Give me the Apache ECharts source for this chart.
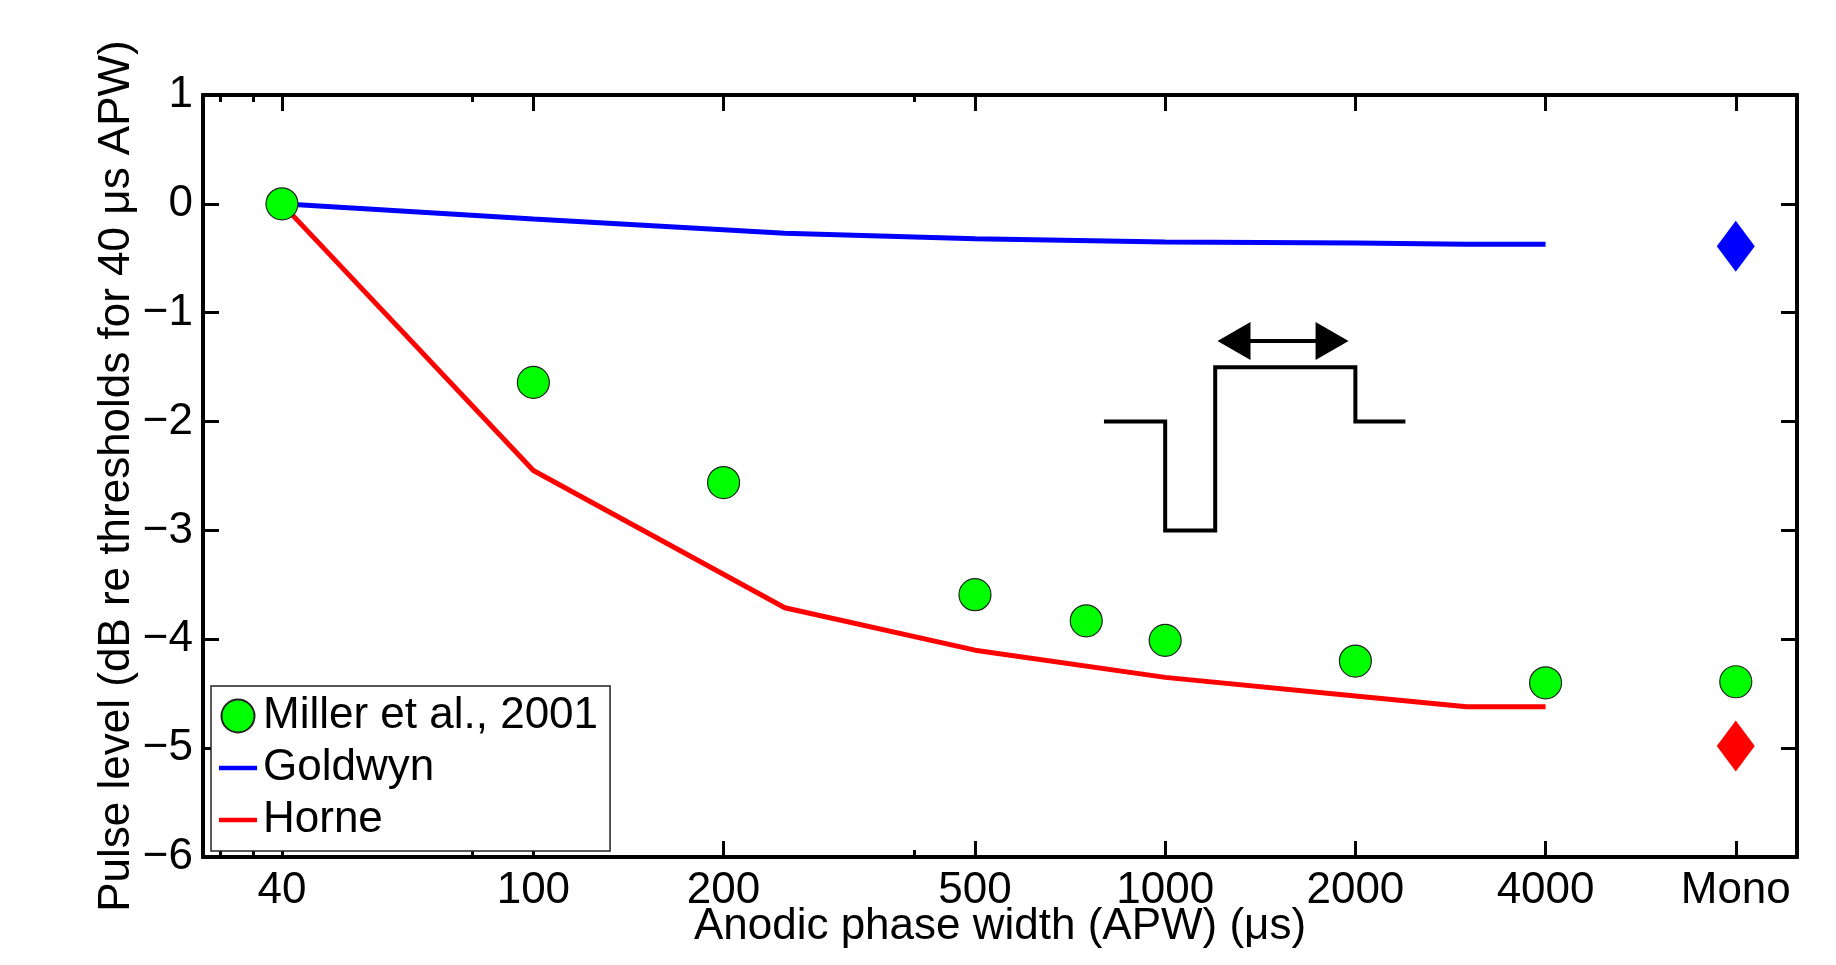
<!DOCTYPE html>
<html>
<head>
<meta charset="utf-8">
<script src="https://cdn.jsdelivr.net/npm/echarts@6/dist/echarts.min.js"></script>
<style>
html,body{margin:0;padding:0;background:#fff;}
#chart{width:1836px;height:965px;}
</style>
</head>
<body>
<div id="chart"></div>
<script>
// ---- data ----
var millerX = [40, 100, 200, 500, 750, 1000, 2000, 4000, 8000];
var millerY = [0, -1.64, -2.56, -3.59, -3.83, -4.01, -4.20, -4.40, -4.39];
var modelX = [40, 100, 250, 500, 1000, 2000, 3000, 4000];
var goldwynY = [0, -0.14, -0.27, -0.32, -0.35, -0.36, -0.37, -0.37];
var horneY = [0, -2.45, -3.71, -4.10, -4.35, -4.52, -4.62, -4.62];
var monoX = 8000;
var goldwynMono = -0.39;
var horneMono = -4.98;
var majorTicks = [40, 100, 200, 500, 1000, 2000, 4000, 8000];
var minorTicks = [32, 36, 80, 400];
var yTicks = [1, 0, -1, -2, -3, -4, -5, -6];
// inset waveform (drawn in data coordinates)
var waveX = [800, 1000, 1000, 1200, 1200, 2000, 2000, 2400];
var waveY = [-2, -2, -3, -3, -1.5, -1.5, -2, -2];
var arrowX = [1285, 1837];
var arrowY = -1.26;

function pairs(xs, ys) { return xs.map(function (x, i) { return [x, ys[i]]; }); }

var FONT = 'Liberation Sans, Arial, Helvetica, sans-serif';
var chart = echarts.init(document.getElementById('chart'), null, {renderer: 'canvas'});

function xAxisDef(pos, ticks, len, showLabel) {
  return {
    type: 'log', position: pos, min: 30, max: 10000, logBase: 10,
    axisLine: {show: true, onZero: false, lineStyle: {color: '#000', width: 4}},
    axisTick: {show: true, inside: true, length: len, lineStyle: {color: '#000', width: 3}, customValues: ticks},
    axisLabel: {show: showLabel, customValues: ticks, color: '#000', fontSize: 44, fontFamily: FONT, margin: 12,
      formatter: function (v) { return Math.abs(v - 8000) < 1 ? 'Mono' : String(Math.round(v)); }},
    splitLine: {show: false}, minorTick: {show: false}
  };
}

var xAxes = [
  xAxisDef('bottom', majorTicks, 16, true),
  xAxisDef('bottom', minorTicks, 7, false),
  xAxisDef('top', majorTicks, 16, false),
  xAxisDef('top', minorTicks, 7, false)
];
xAxes[0].name = 'Anodic phase width (APW) (\u03bcs)';
xAxes[0].nameLocation = 'middle';
xAxes[0].nameGap = 48;
xAxes[0].nameMoveOverlap = false;
xAxes[0].nameTextStyle = {color: '#000', fontSize: 44, fontFamily: FONT};

var LINE_ICON = 'path://M0,0L38,0L38,4.5L0,4.5Z';

var option = {
  animation: false,
  backgroundColor: '#fff',
  grid: {left: 203, right: 39, top: 95, bottom: 108, containLabel: false},
  legend: {
    orient: 'vertical', left: 211, top: 686,
    data: [
      {name: 'Miller et al., 2001', icon: 'circle'},
      {name: 'Goldwyn', icon: LINE_ICON},
      {name: 'Horne', icon: LINE_ICON}
    ],
    itemWidth: 38, itemHeight: 33, itemGap: 0,
    padding: [4, 12, 5, 8],
    backgroundColor: '#fff', borderColor: '#222', borderWidth: 1.5, borderRadius: 0,
    textStyle: {color: '#000', fontSize: 44, fontFamily: FONT, lineHeight: 52, padding: [0, 0, 0, 1]},
    selectedMode: false
  },
  xAxis: xAxes,
  yAxis: [
    {
      type: 'value', position: 'left', min: -6, max: 1, interval: 1,
      name: 'Pulse level (dB re thresholds for 40 \u03bcs APW)', nameLocation: 'middle', nameGap: 64,
      nameMoveOverlap: false,
      nameTextStyle: {color: '#000', fontSize: 44, fontFamily: FONT},
      axisLine: {show: true, onZero: false, lineStyle: {color: '#000', width: 4}},
      axisTick: {show: true, inside: true, length: 16, lineStyle: {color: '#000', width: 3}},
      axisLabel: {color: '#000', fontSize: 44, fontFamily: FONT, margin: 10,
        formatter: function (v) { return v < 0 ? '\u2212' + Math.abs(v) : String(v); }},
      splitLine: {show: false}
    },
    {
      type: 'value', position: 'right', min: -6, max: 1, interval: 1,
      axisLine: {show: true, onZero: false, lineStyle: {color: '#000', width: 4}},
      axisTick: {show: true, inside: true, length: 16, lineStyle: {color: '#000', width: 3}},
      axisLabel: {show: false}, splitLine: {show: false}
    }
  ],
  series: [
    {
      name: 'wave', type: 'line', data: pairs(waveX, waveY), xAxisIndex: 0, yAxisIndex: 0,
      symbol: 'none', silent: true, z: 1,
      lineStyle: {color: '#000', width: 4, join: 'miter'},
      markLine: {
        silent: true, symbol: ['triangle', 'triangle'], symbolSize: [38, 33],
        label: {show: false},
        lineStyle: {color: '#000', width: 4, type: 'solid'},
        itemStyle: {color: '#000'},
        data: [[{coord: [arrowX[0], arrowY]}, {coord: [arrowX[1], arrowY]}]]
      }
    },
    {
      name: 'Goldwyn', type: 'line', data: pairs(modelX, goldwynY), symbol: 'none', z: 3,
      lineStyle: {color: '#0000ff', width: 5}, itemStyle: {color: '#0000ff'}
    },
    {
      name: 'Horne', type: 'line', data: pairs(modelX, horneY), symbol: 'none', z: 3,
      lineStyle: {color: '#ff0000', width: 5}, itemStyle: {color: '#ff0000'}
    },
    {
      name: 'Goldwyn Mono', type: 'scatter', data: [[monoX, goldwynMono]], symbol: 'diamond',
      symbolSize: [38, 51], itemStyle: {color: '#0000ff', opacity: 1}, z: 4
    },
    {
      name: 'Horne Mono', type: 'scatter', data: [[monoX, horneMono]], symbol: 'diamond',
      symbolSize: [38, 51], itemStyle: {color: '#ff0000', opacity: 1}, z: 4
    },
    {
      name: 'Miller et al., 2001', type: 'scatter', data: pairs(millerX, millerY), symbol: 'circle',
      symbolSize: 32, itemStyle: {color: '#00ff00', borderColor: '#222', borderWidth: 1.2, opacity: 1}, z: 5
    }
  ]
};
chart.setOption(option);
</script>
</body>
</html>
